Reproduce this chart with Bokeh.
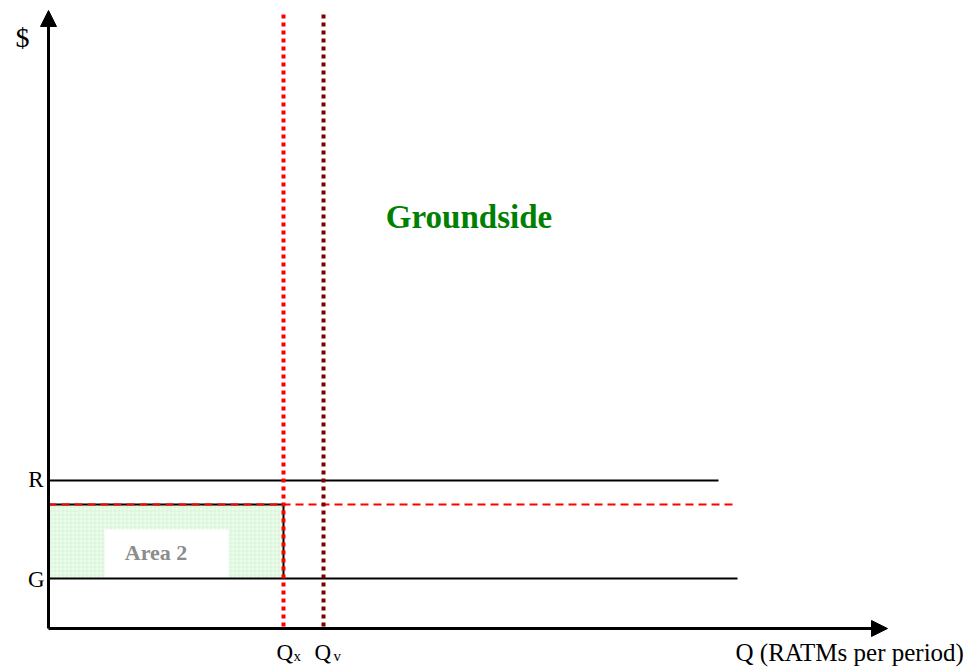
from bokeh.plotting import figure
from bokeh.models import Range1d, Arrow, NormalHead
from bokeh.core.properties import value
from bokeh.embed import file_html
from bokeh.resources import INLINE

# ---- data (arbitrary economic units) ----
Q_x = 47.0          # quantity Qx
Q_v = 55.0          # quantity Qv
price_R = 29.6      # price level R
price_P = 24.8      # dashed price line (top of Area 2)
price_G = 10.0      # price level G
R_end = 134.0
P_end = 137.4
G_end = 137.8
x_axis_end = 167.8
y_axis_end = 123.6
v_line_top = 122.8
area_label_box = [11.2, 36.0, 10.0, 19.8]   # left, right, bottom, top

qlabels = ["Q", "Q"]
qsubs = ["x", "v"]

SERIF = value("Liberation Serif")
DY = -9  # baseline correction in px

p = figure(width=978, height=668, output_backend="svg", toolbar_location=None,
           x_range=Range1d(-9.6, 186), y_range=Range1d(-8, 125.6),
           min_border=0, outline_line_color=None)
p.xaxis.visible = False
p.yaxis.visible = False
p.grid.visible = False

# Area 2 (green rectangle)
p.quad(left=[0], right=[Q_x], bottom=[price_G], top=[price_P],
       fill_color="#eefcee", line_color=None,
       hatch_pattern="+", hatch_color="#d6f5d6", hatch_scale=4, hatch_weight=1)
# white label box
p.quad(left=[area_label_box[0]], right=[area_label_box[1]],
       bottom=[area_label_box[2]], top=[area_label_box[3]],
       fill_color="white", line_color=None)
p.text(x=[21.5], y=[13.4], y_offset=DY, text=["Area 2"], text_font=SERIF,
       text_font_style="bold", text_font_size="22px", text_color="#8c8c8c",
       text_align="center", text_baseline="alphabetic")

# horizontal lines
p.line([0, R_end], [price_R, price_R], line_color="black", line_width=2)
p.line([0, G_end], [price_G, price_G], line_color="black", line_width=2)
p.line([0, Q_x], [price_P, price_P], line_color="black", line_width=2)
p.line([Q_x, Q_x], [price_P, price_G], line_color="black", line_width=2)
p.line([0, P_end], [price_P, price_P], line_color="#ff0000", line_width=2, line_dash="8 5")

# vertical dotted lines
p.line([Q_x, Q_x], [v_line_top, 0], line_color="#ff0000", line_width=4, line_dash="4 4")
p.line([Q_v, Q_v], [v_line_top, 0], line_color="#800000", line_width=4, line_dash="4 4")

# axes with arrows
p.add_layout(Arrow(end=NormalHead(size=16, fill_color="black", line_color="black"),
                   x_start=0, y_start=0, x_end=0, y_end=y_axis_end, line_width=3))
p.add_layout(Arrow(end=NormalHead(size=16, fill_color="black", line_color="black"),
                   x_start=0, y_start=0, x_end=x_axis_end, y_end=0, line_width=3))

# axis labels
p.text(x=[-5.2], y=[117.4], y_offset=-4, text=["$"], text_font=SERIF, text_font_size="28px",
       text_color="black", text_align="center", text_baseline="middle")
p.text(x=[-1.0, -0.8], y=[price_R, price_G], y_offset=[8 + DY, 10 + DY], text=["R", "G"],
       text_font=SERIF, text_font_size="23px", text_color="black",
       text_align="right", text_baseline="alphabetic")
p.text(x=[Q_x, Q_v], y=[0, 0], x_offset=[-7, -9], y_offset=[33 + DY, 33 + DY], text=qlabels,
       text_font=SERIF, text_font_size="23px", text_color="black",
       text_align="left", text_baseline="alphabetic")
p.text(x=[Q_x, Q_v], y=[0, 0], x_offset=[10, 10], y_offset=[36 + DY, 36 + DY], text=qsubs,
       text_font=SERIF, text_font_size="15px", text_color="black",
       text_align="left", text_baseline="alphabetic")
p.text(x=[P_end], y=[0], y_offset=[33 + DY], text=["Q (RATMs per period)"],
       text_font=SERIF, text_font_size="25px", text_color="black",
       text_align="left", text_baseline="alphabetic")

# title text
p.text(x=[84.1], y=[80.6], y_offset=DY, text=["Groundside"], text_font=SERIF,
       text_font_style="bold", text_font_size="33px", text_color="#008000",
       text_align="center", text_baseline="alphabetic")

open("out.html", "w").write(file_html(p, INLINE))
